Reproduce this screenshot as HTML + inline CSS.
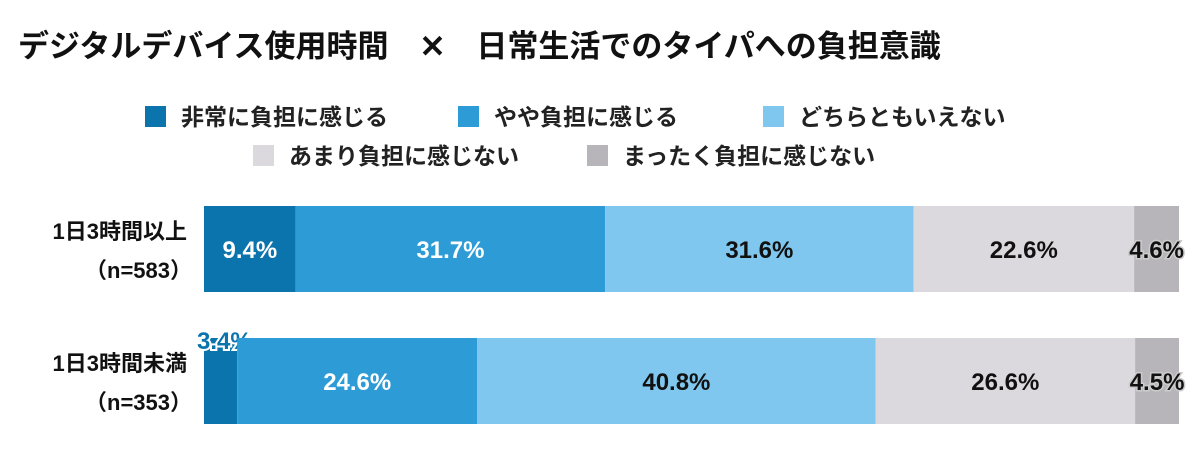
<!DOCTYPE html>
<html><head><meta charset="utf-8"><style>
body{margin:0;background:#fff;width:1200px;height:468px;overflow:hidden;font-family:"Liberation Sans","Noto Sans CJK JP",sans-serif;}
</style></head><body>
<svg width="1200" height="468" xmlns="http://www.w3.org/2000/svg">
<text x="18" y="57" font-size="31" font-weight="bold" fill="#111" xml:space="preserve">デジタルデバイス使用時間　✕　日常生活でのタイパへの負担意識</text>
<g id="legend"></g>
<g id="bars"></g>
</svg>
<script>
const categories=["1日3時間以上","1日3時間未満"];
const counts=["（n=583）","（n=353）"];
const seriesNames=["非常に負担に感じる","やや負担に感じる","どちらともいえない","あまり負担に感じない","まったく負担に感じない"];
const s1=[9.4,3.4];
const s2=[31.7,24.6];
const s3=[31.6,40.8];
const s4=[22.6,26.6];
const s5=[4.6,4.5];
const series=[s1,s2,s3,s4,s5];
const colors=["#0b74ac","#2d9bd5","#7fc7ee","#dcd9de","#b7b5ba"];
const txtCol=["#fff","#fff","#111","#111","#111"];
const NS="http://www.w3.org/2000/svg";
const x0=204,x1=1180;
const xs=v=>x0+(x1-x0)*v/100;
const rowY=[206,338],barH=86;
function mk(tag,attrs,parent){const e=document.createElementNS(NS,tag);for(const k in attrs)e.setAttribute(k,attrs[k]);parent.appendChild(e);return e;}
const lg=document.getElementById('legend');
const legPos=[[145,117],[458,117],[763,117],[253,156],[587,156]];
seriesNames.forEach((n,i)=>{
  const g=mk('g',{},lg);
  
  
  mk('rect',{x:legPos[i][0],y:legPos[i][1]-11,width:21,height:21,fill:colors[i]},g);
  const t=mk('text',{x:legPos[i][0]+36,y:legPos[i][1]+8,'font-size':23,'font-weight':'bold',fill:'#222'},g);
  t.textContent=n;
});
const bg=document.getElementById('bars');
categories.forEach((c,r)=>{
  const y=rowY[r];
  const l1=mk('text',{x:187,y:y+33,'font-size':22,'font-weight':'bold','text-anchor':'end',fill:'#111'},bg);
  
  
  l1.textContent=c;
  const l2=mk('text',{x:192,y:y+72,'font-size':22,'font-weight':'bold','text-anchor':'end',fill:'#111'},bg);
  
  
  l2.textContent=counts[r];
  let acc=0;
  series.forEach((s,i)=>{
    const v=s[r];
    const rc=mk('rect',{x:xs(acc),y:y,width:xs(acc+v)-xs(acc),height:barH,fill:colors[i]},bg);
    
    
    const cx=(xs(acc)+xs(acc+v))/2;
    let ty=y+barH/2+9, col=txtCol[i], anchor='middle', tx=cx, extra={};
    if(v<5&&i===0){ty=y+11;tx=xs(acc)-7;anchor='start';col='#0b74ac';extra={stroke:'#fff','stroke-width':4,'paint-order':'stroke'};}
    else if(v<5){extra={stroke:'#ccc','stroke-width':3,'paint-order':'stroke'};}
    const t=mk('text',Object.assign({x:tx,y:ty,'font-size':24,'font-weight':'bold','text-anchor':anchor,fill:col},extra),bg);
    
    
    t.textContent=v.toFixed(1)+'%';
    acc+=v;
  });
});
</script>
</body></html>
